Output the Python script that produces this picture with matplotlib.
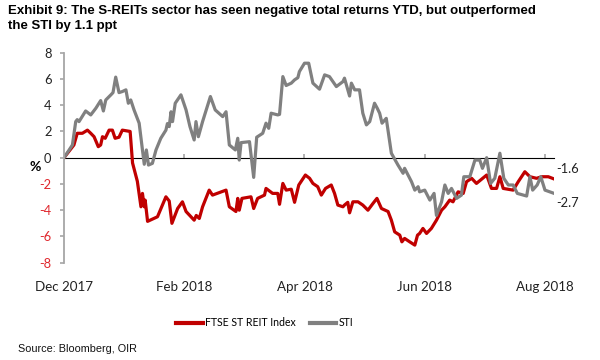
import matplotlib
matplotlib.use("Agg")
import matplotlib.pyplot as plt

# ---- data (x in trading-day index units; ticks every 40 units) ----
sti_x = [0, 2.8, 3.9, 4.4, 5, 7.2, 8.9, 10.6, 12.2, 13.1, 13.9, 15.6, 16.3, 17.2, 18.3, 19.4,
         20.6, 21.4, 22.2, 23.3, 25, 26.1, 26.7, 27.4, 28.1, 29.4, 30.6, 32.2, 33.9, 34.4, 35,
         35.6, 36.1, 37, 38.9, 40.6, 41.9, 43.3, 43.9, 44.7, 46.1, 48.7, 50.3, 52.8, 53.9, 55,
         57, 57.8, 58.3, 58.9, 61.7, 63.1, 64.1, 66.1, 67.2, 68.1, 68.9, 71.1, 71.7, 72.8, 73.9,
         75.6, 76.7, 77.8, 78.3, 80, 81.4, 82.8, 85, 86.7, 88.3, 90.6, 92.8, 93.3, 95, 95.6,
         96.7, 98.3, 99.4, 100.6, 101.7, 103.3, 104.2, 105, 105.8, 107.2, 108.9, 111.1, 112.8,
         113.3, 115.6, 116.7, 117.8, 118.3, 120, 121.7, 123.1, 123.9, 125.6, 126.7, 127.8,
         128.9, 130.6, 132.2, 133, 135, 136.7, 138.3, 139.2, 140.6, 141.9, 143.3, 145, 146.3,
         147.8, 149.4, 150.8, 153.9, 155, 155.9, 157.4, 158.6, 160, 162.8]
sti_y = [0, 0.97, 2.75, 2.9, 2.75, 3.56, 3.26, 3.77, 4.35, 3.56, 4.4, 4.79, 4.96, 6.14, 4.96, 5.04,
         5.17, 4.15, 4.4, 3.64, 2.63, 0.59, -0.5, 0.59, -0.56, -0.43, 0.59, 1.48, 2.1, 2.6, 2.37,
         3.5, 2.75, 4.15, 4.79, 3.64, 2.37, 1.35, 2.75, 1.6, 2.75, 4.66, 3.64, 3.13, 3.5, 0.97,
         0.59, 1.48, -0.18, 1.15, 1.22, -1.5, 1.56, 1.86, 2.63, 2.24, 3.39, 3.26, 3.3, 6.18, 5.5,
         5.68, 5.93, 6.1, 6.56, 7.2, 7.2, 5.68, 5.22, 6.31, 6.18, 5.42, 5.8, 6.06, 4.7, 5.68,
         5.17, 5.17, 3.39, 2.5, 2.75, 4.15, 3.77, 3.39, 2.63, 3.0, 0.34, -0.56, -1.19,
         -0.81, -1.83, -2.47, -2.21, -2.6, -2.47, -3.23, -2.72, -4.4, -3.36, -2.08, -2.72,
         -2.34, -3.1, -2.85, -1.45, -1.45, -0.18, -0.18, -0.81, 0.0, -1.96, -1.57, 0.34, -1.57,
         -2.08, -2.08, -2.72, -2.92, -1.45, -2.47, -2.08, -1.45, -2.47, -2.7]

reit_x = [0, 3.3, 4.4, 6.1, 7.8, 8.9, 10, 11.4, 12.2, 12.8, 13.7, 15, 16.1, 17, 18.3, 19.4, 22,
          22.8, 24.4, 25.6, 26.1, 26.7, 27, 27.8, 31.1, 33.9, 35, 35.9, 37.8, 39.4, 40.6, 43.3,
          44, 45, 46.1, 48.3, 49.4, 53.9, 55, 57.2, 57.8, 58.3, 59.2, 62.2, 63.1, 64.4, 66.7,
          67.2, 69.4, 71.1, 71.7, 72.8, 73.9, 75.6, 76.7, 78.1, 80.3, 81.7, 82.8, 84.4, 85.6,
          87, 88.9, 90, 91.1, 92.8, 93.3, 94.4, 95, 96.1, 97.8, 99.4, 101.1, 102.8, 104.1,
          105.6, 107.8, 108.9, 110, 111.7, 112.4, 113.3, 115, 116.7, 117.6, 118.3, 119.4,
          120.6, 122.2, 123.9, 125.6, 126.7, 128.3, 129.4, 131.1, 132.8, 133.9, 135.6, 137.2,
          140.6, 142.2, 143.9, 145, 146.1, 149.4, 151.1, 153.3, 155, 157.2, 158.9, 161.1, 162.8]
reit_y = [0, 0.97, 1.86, 1.86, 2.1, 1.86, 1.6, 0.84, 0.97, 1.6, 1.48, 2.1, 2.1, 1.48, 1.56, 2.1, 2.0,
          -0.4, -1.8, -3.74, -2.72, -3.74, -3.23, -4.85, -4.5, -2.98, -3.3, -5.0, -3.87, -3.36,
          -4.1, -4.76, -4.4, -4.63, -3.74, -2.47, -2.85, -2.47, -3.74, -4.1, -3.1, -4.0, -3.1,
          -2.98, -3.87, -3.1, -2.85, -2.34, -2.72, -2.72, -3.55, -1.96, -2.47, -2.4, -3.4, -2.08,
          -1.32, -1.57, -1.96, -2.21, -2.85, -2.34, -2.08, -2.72, -3.61, -3.74, -3.61, -3.4,
          -4.2, -3.36, -3.36, -3.61, -4.0, -3.48, -3.1, -3.87, -4.1, -4.76, -5.65, -5.9, -6.41,
          -6.15, -6.41, -6.66, -5.9, -5.77, -5.39, -5.77, -5.39, -4.76, -4.0, -3.74, -3.23,
          -3.36, -2.6, -2.72, -1.83, -1.57, -1.96, -1.32, -2.34, -2.34, -1.45, -2.34, -2.47,
          -1.83, -1.07, -1.45, -1.57, -1.45, -1.45, -1.6]

tick_pos = [0, 40, 80, 120, 160]
tick_labels = ["Dec 2017", "Feb 2018", "Apr 2018", "Jun 2018", "Aug 2018"]
y_ticks = [-8, -6, -4, -2, 0, 2, 4, 6, 8]
end_labels = {"reit": "-1.6", "sti": "-2.7"}

RED = "#C00000"
GREY = "#808080"
AXC = "#A6A6A6"
LABEL_FONT = "Lato"

fig = plt.figure(figsize=(6, 3.6), dpi=100)
ax = fig.add_axes([64 / 600, 1 - 262.7 / 360, (554 - 64) / 600, 210 / 360])

ax.plot(reit_x, reit_y, color=RED, lw=2.3, label="FTSE ST REIT Index", solid_joinstyle="round")
ax.plot(sti_x, sti_y, color=GREY, lw=2.3, label="STI", solid_joinstyle="round")

ax.set_xlim(0, 163)
ax.set_ylim(-8, 8)

for s in ["top", "right", "bottom"]:
    ax.spines[s].set_visible(False)
ax.spines["left"].set_color(AXC)
ax.spines["left"].set_linewidth(1.3)

ax.set_yticks(y_ticks)
ax.set_yticklabels([str(v) for v in y_ticks], fontfamily=LABEL_FONT, fontsize=9.3)
for lab, v in zip(ax.get_yticklabels(), y_ticks):
    lab.set_color("#E0282E" if v < 0 else "#222222")
ax.tick_params(axis="y", length=3, width=1.2, color=AXC, pad=6)

ax.set_xticks(tick_pos)
ax.set_xticklabels(tick_labels, fontfamily=LABEL_FONT, fontsize=9.6, color="#222222")
ax.tick_params(axis="x", length=0, pad=13)

# zero line with tick marks
sec = ax.secondary_xaxis(0.5)
sec.set_xticks(tick_pos[1:])
sec.set_xticklabels([])
sec.tick_params(axis="x", length=3, width=1.2, color=AXC, direction="out")
sec.spines["bottom"].set_color(AXC)
sec.spines["bottom"].set_linewidth(1.3)

ax.set_ylabel("%", rotation=0, fontsize=10, fontweight="bold", fontfamily=LABEL_FONT)
ax.yaxis.set_label_coords(-0.059, 0.427)

# end labels
ax.annotate(end_labels["reit"], (reit_x[-1], reit_y[-1]), xytext=(2, 7), textcoords="offset points",
            ha="left", va="center", fontsize=9.3, fontfamily=LABEL_FONT, color="#222222",
            annotation_clip=False)
ax.annotate(end_labels["sti"], (sti_x[-1], sti_y[-1]), xytext=(2, -7), textcoords="offset points",
            ha="left", va="center", fontsize=9.3, fontfamily=LABEL_FONT, color="#222222",
            annotation_clip=False)

fig.text(8 / 600, 1 - 5 / 360,
         "Exhibit 9: The S-REITs sector has seen negative total returns YTD, but outperformed\nthe STI by 1.1 ppt",
         ha="left", va="top", fontsize=9.55, fontweight="bold", fontfamily="Liberation Sans",
         linespacing=1.38)

leg = fig.legend(loc="center", bbox_to_anchor=(265 / 600, 1 - 323 / 360), ncol=2, frameon=False,
                 prop={"family": LABEL_FONT, "size": 7.6}, handlelength=2.5, handletextpad=0.25,
                 columnspacing=1.3)
for line in leg.get_lines():
    line.set_linewidth(3)

fig.text(18 / 600, 1 - 349 / 360, "Source: Bloomberg, OIR", ha="left", va="center",
         fontsize=7.8, fontfamily="Liberation Sans", color="#111111")

fig.savefig("out.png", dpi=100)
